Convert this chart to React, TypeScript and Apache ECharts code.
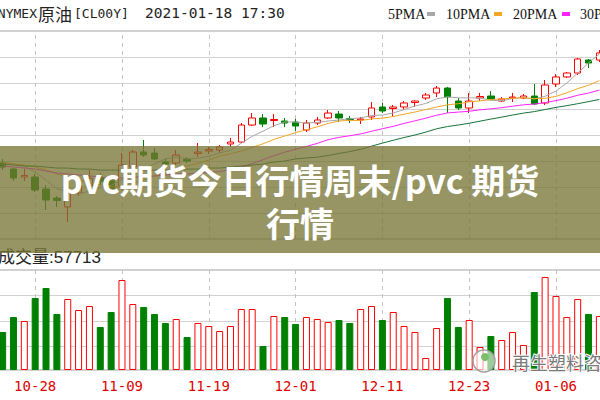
import React, { useEffect, useRef } from "react";
import * as echarts from "echarts";

const dates = [
  "10-23","10-26","10-27","10-28","10-29","10-30","11-02","11-03","11-04","11-05",
  "11-06","11-09","11-10","11-11","11-12","11-13","11-16","11-17","11-18","11-19",
  "11-20","11-23","11-24","11-25","11-26","11-27","11-30","12-01","12-02","12-03",
  "12-04","12-07","12-08","12-09","12-10","12-11","12-14","12-15","12-16","12-17",
  "12-18","12-21","12-22","12-23","12-24","12-28","12-29","12-30","12-31","01-04",
  "01-05","01-06","01-07","01-08","01-11","01-12",
];
const labelDates = ["10-28", "11-09", "11-19", "12-01", "12-11", "12-23", "01-06"];

const opens = [
  40.62,39.91,38.95,38.95,37.52,36.45,35.38,37.04,37.90,38.90,
  38.50,37.88,40.14,41.93,41.81,40.74,40.62,41.04,41.75,42.05,
  42.17,42.89,43.12,45.15,45.99,45.69,45.63,45.51,44.56,45.39,
  45.99,46.46,45.93,45.75,46.11,47.30,47.12,47.30,47.84,48.37,
  48.97,49.56,48.01,47.18,48.37,48.61,48.01,48.37,48.37,48.61,
  47.78,50.04,50.88,51.35,52.90,52.90,
];
const closes = [
  40.14,38.83,39.13,37.40,36.21,36.15,37.16,37.88,38.80,38.40,
  37.60,40.38,41.93,41.57,41.10,40.50,41.57,40.86,41.93,42.23,
  42.53,43.12,45.15,45.99,45.27,45.81,45.39,45.03,45.39,45.75,
  46.58,45.99,45.81,45.87,47.18,46.82,47.30,47.78,48.01,48.73,
  49.56,48.49,47.18,48.01,48.55,48.25,48.25,48.49,48.61,47.66,
  49.92,50.88,51.35,53.02,52.54,53.74,
];
const lows = [
  39.79,38.47,38.47,37.16,35.02,35.38,33.59,36.69,37.30,38.00,
  37.30,37.40,40.03,41.34,40.98,40.14,40.38,40.62,41.34,41.69,
  41.81,42.53,43.00,45.03,44.91,44.91,44.91,44.44,44.32,45.15,
  45.87,45.51,45.39,45.27,45.75,46.58,46.11,46.94,47.30,48.13,
  48.49,46.58,46.94,46.58,48.01,48.19,47.89,47.89,48.25,47.54,
  47.54,49.68,50.76,51.11,51.95,52.66,
];
const highs = [
  41.10,40.03,39.91,39.31,38.00,36.69,38.36,38.36,39.80,39.40,
  38.80,41.81,42.17,43.36,42.41,41.22,42.17,41.34,43.00,42.53,
  42.77,43.60,45.39,46.58,46.46,46.46,45.99,45.87,45.75,46.11,
  46.94,46.82,46.23,46.11,47.89,47.78,47.54,48.01,48.07,48.97,
  49.80,49.68,48.37,48.97,48.97,49.20,48.49,48.97,48.85,50.04,
  50.52,51.23,51.47,53.14,53.02,54.09,
];
const volumes = [
  38000,53000,49000,72000,82000,56000,71000,60000,64000,43000,
  58000,90000,66000,63000,56000,47000,51000,33000,47000,44000,
  39000,44000,61000,61000,24000,54000,53000,46000,53000,51000,
  48000,50000,47000,61000,64000,50000,58000,44000,38000,12000,
  42000,72000,43000,50000,23000,34000,30000,38000,25000,78000,
  93000,74000,53000,71000,56000,54000,
];
const ma5 = [
  40.74,40.50,40.26,39.55,38.59,37.54,37.21,36.96,37.24,37.69,
  37.97,38.62,39.43,39.97,40.51,41.10,41.33,41.12,41.19,41.42,
  41.82,42.13,42.99,43.80,44.41,45.07,45.52,45.50,45.38,45.47,
  45.63,45.75,45.90,46.00,46.28,46.33,46.59,46.99,47.41,47.72,
  48.27,48.51,48.39,48.39,48.36,48.09,48.05,48.31,48.43,48.25,
  48.58,49.20,50.16,51.35,52.54,53.61,
];
const ma10 = [
  40.62,40.50,40.38,40.14,39.78,39.31,38.95,38.59,38.23,38.01,
  37.76,37.91,38.20,38.62,39.10,39.53,39.97,40.27,40.58,40.96,
  41.45,41.73,42.05,42.49,42.91,43.44,43.83,44.24,44.59,44.93,
  45.34,45.63,45.70,45.69,45.88,45.97,46.16,46.44,46.70,47.00,
  47.30,47.55,47.69,47.90,48.03,48.18,48.27,48.34,48.40,48.30,
  48.33,48.57,48.99,49.49,49.89,50.44,
];
const ma20 = [
  40.26,40.14,40.02,39.90,39.66,39.43,39.31,39.19,39.07,38.95,
  38.83,38.83,38.95,38.95,39.07,39.19,39.31,39.31,39.43,39.49,
  39.61,39.82,40.13,40.56,41.01,41.49,41.91,42.26,42.59,42.96,
  43.40,43.68,43.87,44.09,44.40,44.71,44.99,45.34,45.65,45.97,
  46.32,46.59,46.69,46.79,46.96,47.08,47.22,47.39,47.56,47.65,
  47.82,48.06,48.34,48.70,48.96,49.31,
];
const ma30 = [
  40.50,40.38,40.26,40.26,40.14,40.02,40.02,39.90,39.90,39.78,
  39.78,39.78,39.78,39.78,39.78,39.78,39.78,39.90,39.90,40.02,
  40.02,40.14,40.26,40.38,40.50,40.74,40.86,41.10,41.22,41.31,
  41.52,41.76,41.98,42.26,42.63,42.99,43.33,43.66,43.96,44.30,
  44.70,44.97,45.15,45.36,45.61,45.86,46.09,46.34,46.57,46.75,
  47.00,47.25,47.46,47.69,47.94,48.20,
];
const maNames = ["5PMA", "10PMA", "20PMA", "30PMA"];
const titleParts = ["NYMEX", "原油", "[CL00Y]", "2021-01-18 17:30"];
const volumeLabel = "成交量:57713";
const bannerLines = ["pvc期货今日行情周末/pvc 期货", "行情"];
const watermark = "再生塑料咨询";

export default function App() {
  const ref = useRef<HTMLDivElement>(null);
  useEffect(() => {
    const chart = echarts.init(ref.current!, null, { renderer: "svg" });
    const maSeries = [ma5, ma10, ma20, ma30];
    const maColors = ["#a8a8a8", "#f5a623", "#ff22ff", "#17723a"];
    const mono = "DejaVu Sans Mono";
    const serif = "Liberation Serif";
    const upVol = { color: "#ffffff", borderColor: "#ff0000", borderWidth: 1 };
    const downVol = { color: "#008000", borderColor: "#008000", borderWidth: 1 };
    const gridBase = {
      left: -2.8,
      width: 607.6,
      show: true,
      borderColor: "#a0a0a0",
      borderWidth: 1,
      containLabel: false,
      outerBoundsMode: "none",
    };
    const dashed = (xi: number, yi: number) => ({
      type: "line",
      xAxisIndex: xi,
      yAxisIndex: yi,
      data: [],
      z: 1,
      silent: true,
      markLine: {
        silent: true,
        z: 1,
        symbol: ["none", "none"],
        label: { show: false },
        animation: false,
        lineStyle: { color: "#c4c4c4", type: [4, 4], width: 1 },
        data: labelDates.map((d) => ({ xAxis: d })),
      },
    });
    const txt = (text: string, x: number, y: number, size: number, family: string, align: string, fill = "#222", extra: any = {}) => ({
      type: "text",
      x,
      y,
      z: extra.z ?? 10,
      style: {
        text,
        fontSize: size,
        fontFamily: family,
        fontWeight: extra.weight ?? "normal",
        fill,
        stroke: extra.stroke,
        lineWidth: extra.lineWidth,
        textAlign: align,
        textVerticalAlign: "middle",
      },
    });
    const legendX = [388, 446, 513, 580];
    const swatchX = [427, 494, 562, 630];
    const graphic: any[] = [
      txt(titleParts[0], 37, 13, 13, mono, "right"),
      txt(titleParts[1], 38, 13, 17, "Noto Sans CJK SC", "left"),
      txt(titleParts[2], 74, 13, 13, mono, "left"),
      txt(titleParts[3], 145, 13, 14.5, mono, "left"),
      ...maNames.map((n, i) => txt(n, legendX[i], 14, 14, serif, "left", "#111")),
      ...maNames.map((_, i) => ({
        type: "rect",
        shape: { x: swatchX[i], y: 12, width: 8, height: 4 },
        style: { fill: maColors[i] },
      })),
      {
        type: "rect",
        z: 100,
        shape: { x: 0, y: 146, width: 600, height: 107 },
        style: { fill: "rgba(120,116,52,0.76)" },
      },
      txt(bannerLines[0], 300, 179, 34, "Noto Sans CJK SC", "center", "#ffffff", { weight: "bold", z: 101 }),
      txt(bannerLines[1], 300, 222, 34, "Noto Sans CJK SC", "center", "#ffffff", { weight: "bold", z: 101 }),
      txt(volumeLabel, -2, 257, 17, "Liberation Sans, Noto Sans CJK SC", "left", "#222"),
      {
        type: "circle",
        z: 50,
        shape: { cx: 484, cy: 361, r: 11 },
        style: { fill: "rgba(255,255,255,0.6)", stroke: "#a0a0a0", lineWidth: 1.5 },
      },
      {
        type: "circle",
        z: 51,
        shape: { cx: 485, cy: 357, r: 4 },
        style: { fill: "#7cbf6a" },
      },
      txt(watermark, 512, 362, 18, "Noto Sans CJK SC", "left", "#7a7a7a", { stroke: "#ffffff", lineWidth: 2, z: 52 }),
    ];

    const option: any = {
      animation: false,
      backgroundColor: "#ffffff",
      grid: [
        { ...gridBase, top: 31, height: 208 },
        { ...gridBase, top: 270, height: 100 },
      ],
      xAxis: [
        { type: "category", gridIndex: 0, data: dates, boundaryGap: true, show: false },
        {
          type: "category",
          gridIndex: 1,
          data: dates,
          boundaryGap: true,
          axisLine: { show: false },
          axisTick: { show: false },
          splitLine: { show: false },
          axisLabel: {
            interval: (_i: number, v: string) => labelDates.includes(v),
            color: "#e00000",
            fontFamily: mono,
            fontSize: 14,
            margin: 9,
          },
        },
      ],
      yAxis: [
        { type: "value", gridIndex: 0, min: 31.56, max: 56.36, show: false },
        {
          type: "value",
          gridIndex: 0,
          min: 0,
          max: 8,
          interval: 1,
          axisLine: { show: false },
          axisTick: { show: false },
          axisLabel: { show: false },
          splitLine: { show: true, lineStyle: { color: "#d2d2d2", width: 1 } },
        },
        { type: "value", gridIndex: 1, min: 0, max: 100000, show: false },
        {
          type: "value",
          gridIndex: 1,
          min: 0,
          max: 100,
          interval: 25.5,
          inverse: true,
          axisLine: { show: false },
          axisTick: { show: false },
          axisLabel: { show: false },
          splitLine: { show: true, lineStyle: { color: "#d2d2d2", width: 1 } },
        },
      ],
      series: [
        dashed(0, 1),
        dashed(1, 3),
        {
          type: "candlestick",
          xAxisIndex: 0,
          yAxisIndex: 0,
          barWidth: 7,
          z: 3,
          data: dates.map((_, i) => [opens[i], closes[i], lows[i], highs[i]]),
          itemStyle: {
            color: "#ffffff",
            color0: "#008000",
            borderColor: "#ff0000",
            borderColor0: "#008000",
            borderWidth: 1,
          },
        },
        ...maSeries.map((arr, i) => ({
          type: "line",
          name: maNames[i],
          xAxisIndex: 0,
          yAxisIndex: 0,
          data: arr,
          symbol: "none",
          smooth: false,
          lineStyle: { color: maColors[i], width: 1 },
          z: 4,
        })),
        {
          type: "bar",
          xAxisIndex: 1,
          yAxisIndex: 2,
          barWidth: 7,
          z: 3,
          data: volumes.map((v, i) => ({
            value: v,
            itemStyle: closes[i] >= opens[i] ? upVol : downVol,
          })),
        },
      ],
      graphic,
    };
    chart.setOption(option);
    return () => chart.dispose();
  }, []);
  return (
    <div
      ref={ref}
      style={{ position: "absolute", left: 0, top: 0, width: 600, height: 400, background: "#fff" }}
    />
  );
}
